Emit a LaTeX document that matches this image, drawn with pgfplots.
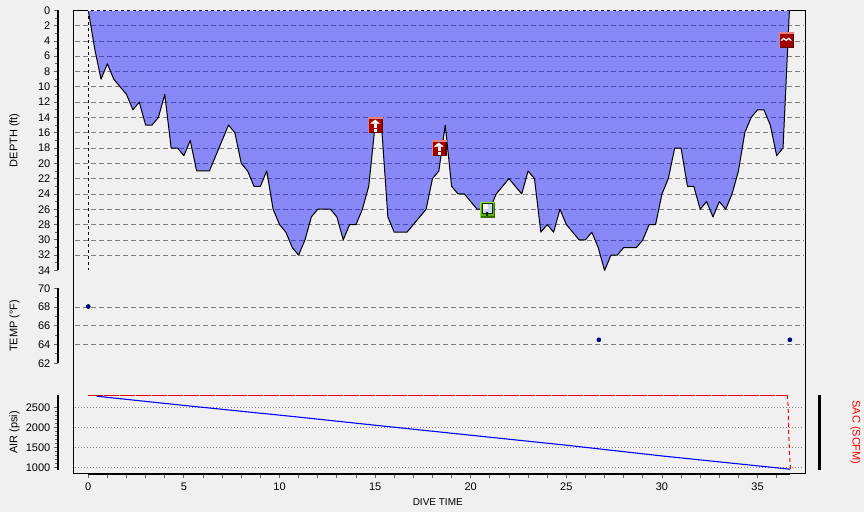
\documentclass[border=0pt]{standalone}
\usepackage{pgfplots}
\usepackage{pgfplotstable}
\pgfplotsset{compat=1.18}
\usepackage{fontspec}
\setmainfont{Liberation Sans}
\definecolor{bg}{HTML}{F0F0F0}
\definecolor{tickg}{HTML}{606060}
\definecolor{redm}{HTML}{A00000}
\definecolor{redl}{HTML}{E88080}
\definecolor{redd}{HTML}{600000}
\definecolor{grn}{HTML}{60B000}
\definecolor{grnl}{HTML}{90E030}
\definecolor{grnd}{HTML}{307000}
\pgfplotstableread{
n d
0 0
1 5
2 9
3 7
4 9
5 10
6 11
7 13
8 12
9 15
10 15
11 14
12 11
13 18
14 18
15 19
16 17
17 21
18 21
19 21
20 19
21 17
22 15
23 16
24 20
25 21
26 23
27 23
28 21
29 26
30 28
31 29
32 31
33 32
34 30
35 27
36 26
37 26
38 26
39 27
40 30
41 28
42 28
43 26
44 23
45 15
46 15
47 27
48 29
49 29
50 29
51 28
52 27
53 26
54 22
55 21
56 15
57 23
58 24
59 24
60 25
61 26
62 26
63 26
64 24
65 23
66 22
67 23
68 24
69 21
70 22
71 29
72 28
73 29
74 26
75 28
76 29
77 30
78 30
79 29
80 31
81 34
82 32
83 32
84 31
85 31
86 31
87 30
88 28
89 28
90 24
91 22
92 18
93 18
94 23
95 23
96 26
97 25
98 27
99 25
100 26
101 24
102 21
103 16
104 14
105 13
106 13
107 15
108 19
109 18
110 0
}\depthtable
\pgfdeclareplotmark{redbase}{%
  \fill[redl,solid] (-7pt,-7.5pt) rectangle (7pt,7.5pt);
  \fill[redd] (-5.7pt,-7.5pt) rectangle (7pt,6.2pt);
  \fill[redm] (-5.7pt,-6.3pt) rectangle (5.9pt,6.2pt);
}
\pgfdeclareplotmark{ascent}{%
  \pgfuseplotmark{redbase}
  \fill[white] (-4.3pt,1.7pt) -- (0pt,5.2pt) -- (4.3pt,1.7pt) -- cycle;
  \fill[white] (-1pt,-2.3pt) rectangle (1pt,0.7pt);
  \fill[white] (-1pt,-5.7pt) rectangle (1pt,-3.7pt);
}
\pgfdeclareplotmark{wave}{%
  \pgfuseplotmark{redbase}
  \draw[white,solid,line width=1.2pt] (-5pt,-0.5pt) -- (-2.5pt,1.8pt) -- (0pt,-0.3pt) -- (2.5pt,1.8pt) -- (5pt,-0.5pt);
}
\pgfdeclareplotmark{photo}{%
  \fill[grnl] (-7pt,-7.5pt) rectangle (7pt,7.5pt);
  \fill[grnd] (-5.7pt,-7.5pt) rectangle (7pt,6.2pt);
  \fill[grn] (-5.7pt,-6.3pt) rectangle (5.9pt,6.2pt);
  \fill[black!80!green] (-4.3pt,-3.5pt) rectangle (4.8pt,5.6pt);
  \fill[white!82!blue] (-3.3pt,-2.5pt) rectangle (3.8pt,4.6pt);
  \fill[white] (-3.3pt,1pt) rectangle (0.5pt,4.6pt);
  \fill[black!80!green] (-0.5pt,-5.7pt) rectangle (0.5pt,-3pt);
}
\pgfplotsset{
  panel/.style={
    scale only axis, width=747.3pt, xmin=-1.584, xmax=37.49,
    axis x line=none, axis y line=left, clip=false,
    axis line style={-,line width=2.2pt,black},
    tick style={tickg,line width=.8pt},
    tick align=outside, major tick length=4pt, minor tick length=2.5pt,
    yticklabel style={inner xsep=0pt,xshift=-3.5pt,font=\fontsize{11}{13}\selectfont},
    /pgf/number format/assume math mode=true,
    /pgf/number format/1000 sep={},
    every axis y label/.style={at={(axis description cs:-0.0582,0.5)},anchor=center,rotate=90,font=\fontsize{11}{13}\selectfont},
  },
  dashg/.style={gray,line width=.7pt,dash pattern=on 5pt off 3pt,forget plot},
  dotg/.style={gray,line width=.9pt,dash pattern=on 1pt off 2pt,forget plot},
}
\begin{document}
\begin{tikzpicture}[x=1pt,y=1pt]
\fill[bg] (0,0) rectangle (864,512);
% frame with time axis
\begin{axis}[
  at={(73.3pt,38pt)},anchor=south west,scale only axis,width=732pt,height=463.7pt,
  xmin=-0.784,xmax=37.49,ymin=0,ymax=1,clip=false,
  axis line style={line width=1.1pt,black},
  xtick={0,5,...,35},minor xtick={0,1,...,36},ytick=\empty,
  xtick pos=bottom,tick style={tickg,line width=.8pt},tick align=outside,
  major tick length=4pt,minor tick length=4pt,
  xticklabel style={font=\fontsize{11}{13}\selectfont,yshift=-1.5pt},
  /pgf/number format/assume math mode=true,
  xlabel={DIVE TIME},
  every axis x label/.style={at={(axis description cs:0.498,-0.0604)},anchor=center,font=\fontsize{10}{12}\selectfont},
]
\addplot[black,line width=2.6pt,line cap=butt] coordinates {(0,0) (36.7,0)};
\end{axis}
% depth
\begin{axis}[panel,at={(58pt,241.5pt)},anchor=south west,height=260.2pt,
  y dir=reverse,ymin=0,ymax=34,ytick={0,2,...,34},minor y tick num=1,
  ylabel={DEPTH (ft)}]
\pgfplotsinvokeforeach{2,4,6,8,10,12,14,16,18,20,22,24,26,28,30,32}{
  \addplot[dashg] coordinates {(-0.68,#1) (37.4,#1)};
}
\addplot[fill=blue,fill opacity=0.43,draw=none,forget plot] table[x expr=\thisrow{n}/3,y=d]{\depthtable} \closedcycle;
\addplot[black,line width=1pt,line join=round,forget plot] table[x expr=\thisrow{n}/3,y=d]{\depthtable};
\addplot[black,line width=.9pt,dash pattern=on 3pt off 3pt,forget plot] coordinates {(0,0) (0,34)};
\addplot[bg,line width=1.2pt,dash pattern=on 3pt off 3pt,forget plot] coordinates {(0,0) (36.7,0)};
\addplot[only marks,mark=ascent,forget plot] coordinates {(15,15) (18.33,18)};
\addplot[only marks,mark=photo,forget plot] coordinates {(20.85,26)};
\addplot[only marks,mark=wave,forget plot] coordinates {(36.5,3.9)};
\end{axis}
% temperature
\begin{axis}[panel,at={(58pt,148.7pt)},anchor=south west,height=75pt,
  ymin=62,ymax=70,ytick={62,64,...,70},minor y tick num=1,
  ylabel={TEMP (°F)}]
\pgfplotsinvokeforeach{64,66,68}{
  \addplot[dashg] coordinates {(-0.68,#1) (37.4,#1)};
}
\addplot[only marks,mark=*,mark size=2pt,mark options={fill=blue!70!black,draw=black!70!blue,line width=.6pt},forget plot]
  coordinates {(0,68.05) (26.7,64.5) (36.69,64.5)};
\end{axis}
% air
\begin{axis}[panel,at={(58pt,42pt)},anchor=south west,height=75pt,
  ymin=932.5,ymax=2807,ytick={1000,1500,2000,2500},minor y tick num=4,
  ylabel={AIR (psi)}]
\pgfplotsinvokeforeach{1000,1500,2000,2500}{
  \addplot[dotg] coordinates {(-0.68,#1) (37.4,#1)};
}
\addplot[red!92!black,line width=1pt,dash pattern=on 15pt off 1pt] coordinates {(0,2805) (36.55,2805)};
\addplot[red,line width=1pt,dash pattern=on 4pt off 3pt] coordinates {(36.55,2805) (36.6,2520) (36.63,1850) (36.68,1270) (36.72,960)};
\addplot[blue,line width=1.1pt] coordinates {(0.44,2775) (5,2545) (11.07,2250) (15,2050) (20,1800) (24.87,1557) (30,1282) (35,1035) (36.7,950)};
\end{axis}
% right SAC scale
\begin{axis}[at={(820pt,42pt)},anchor=south west,scale only axis,width=1pt,height=75pt,
  xmin=0,xmax=1,ymin=932.5,ymax=2807,hide x axis,axis y line=left,ytick=\empty,
  axis line style={-,line width=3pt,black},clip=false,
  ylabel={\color{red}SAC (SCFM)},
  every axis y label/.style={at={(axis description cs:35.7,0.5)},anchor=center,rotate=-90,font=\fontsize{11}{13}\selectfont}]
\addplot[draw=none] coordinates {(0,1000)};
\end{axis}
\end{tikzpicture}
\end{document}
